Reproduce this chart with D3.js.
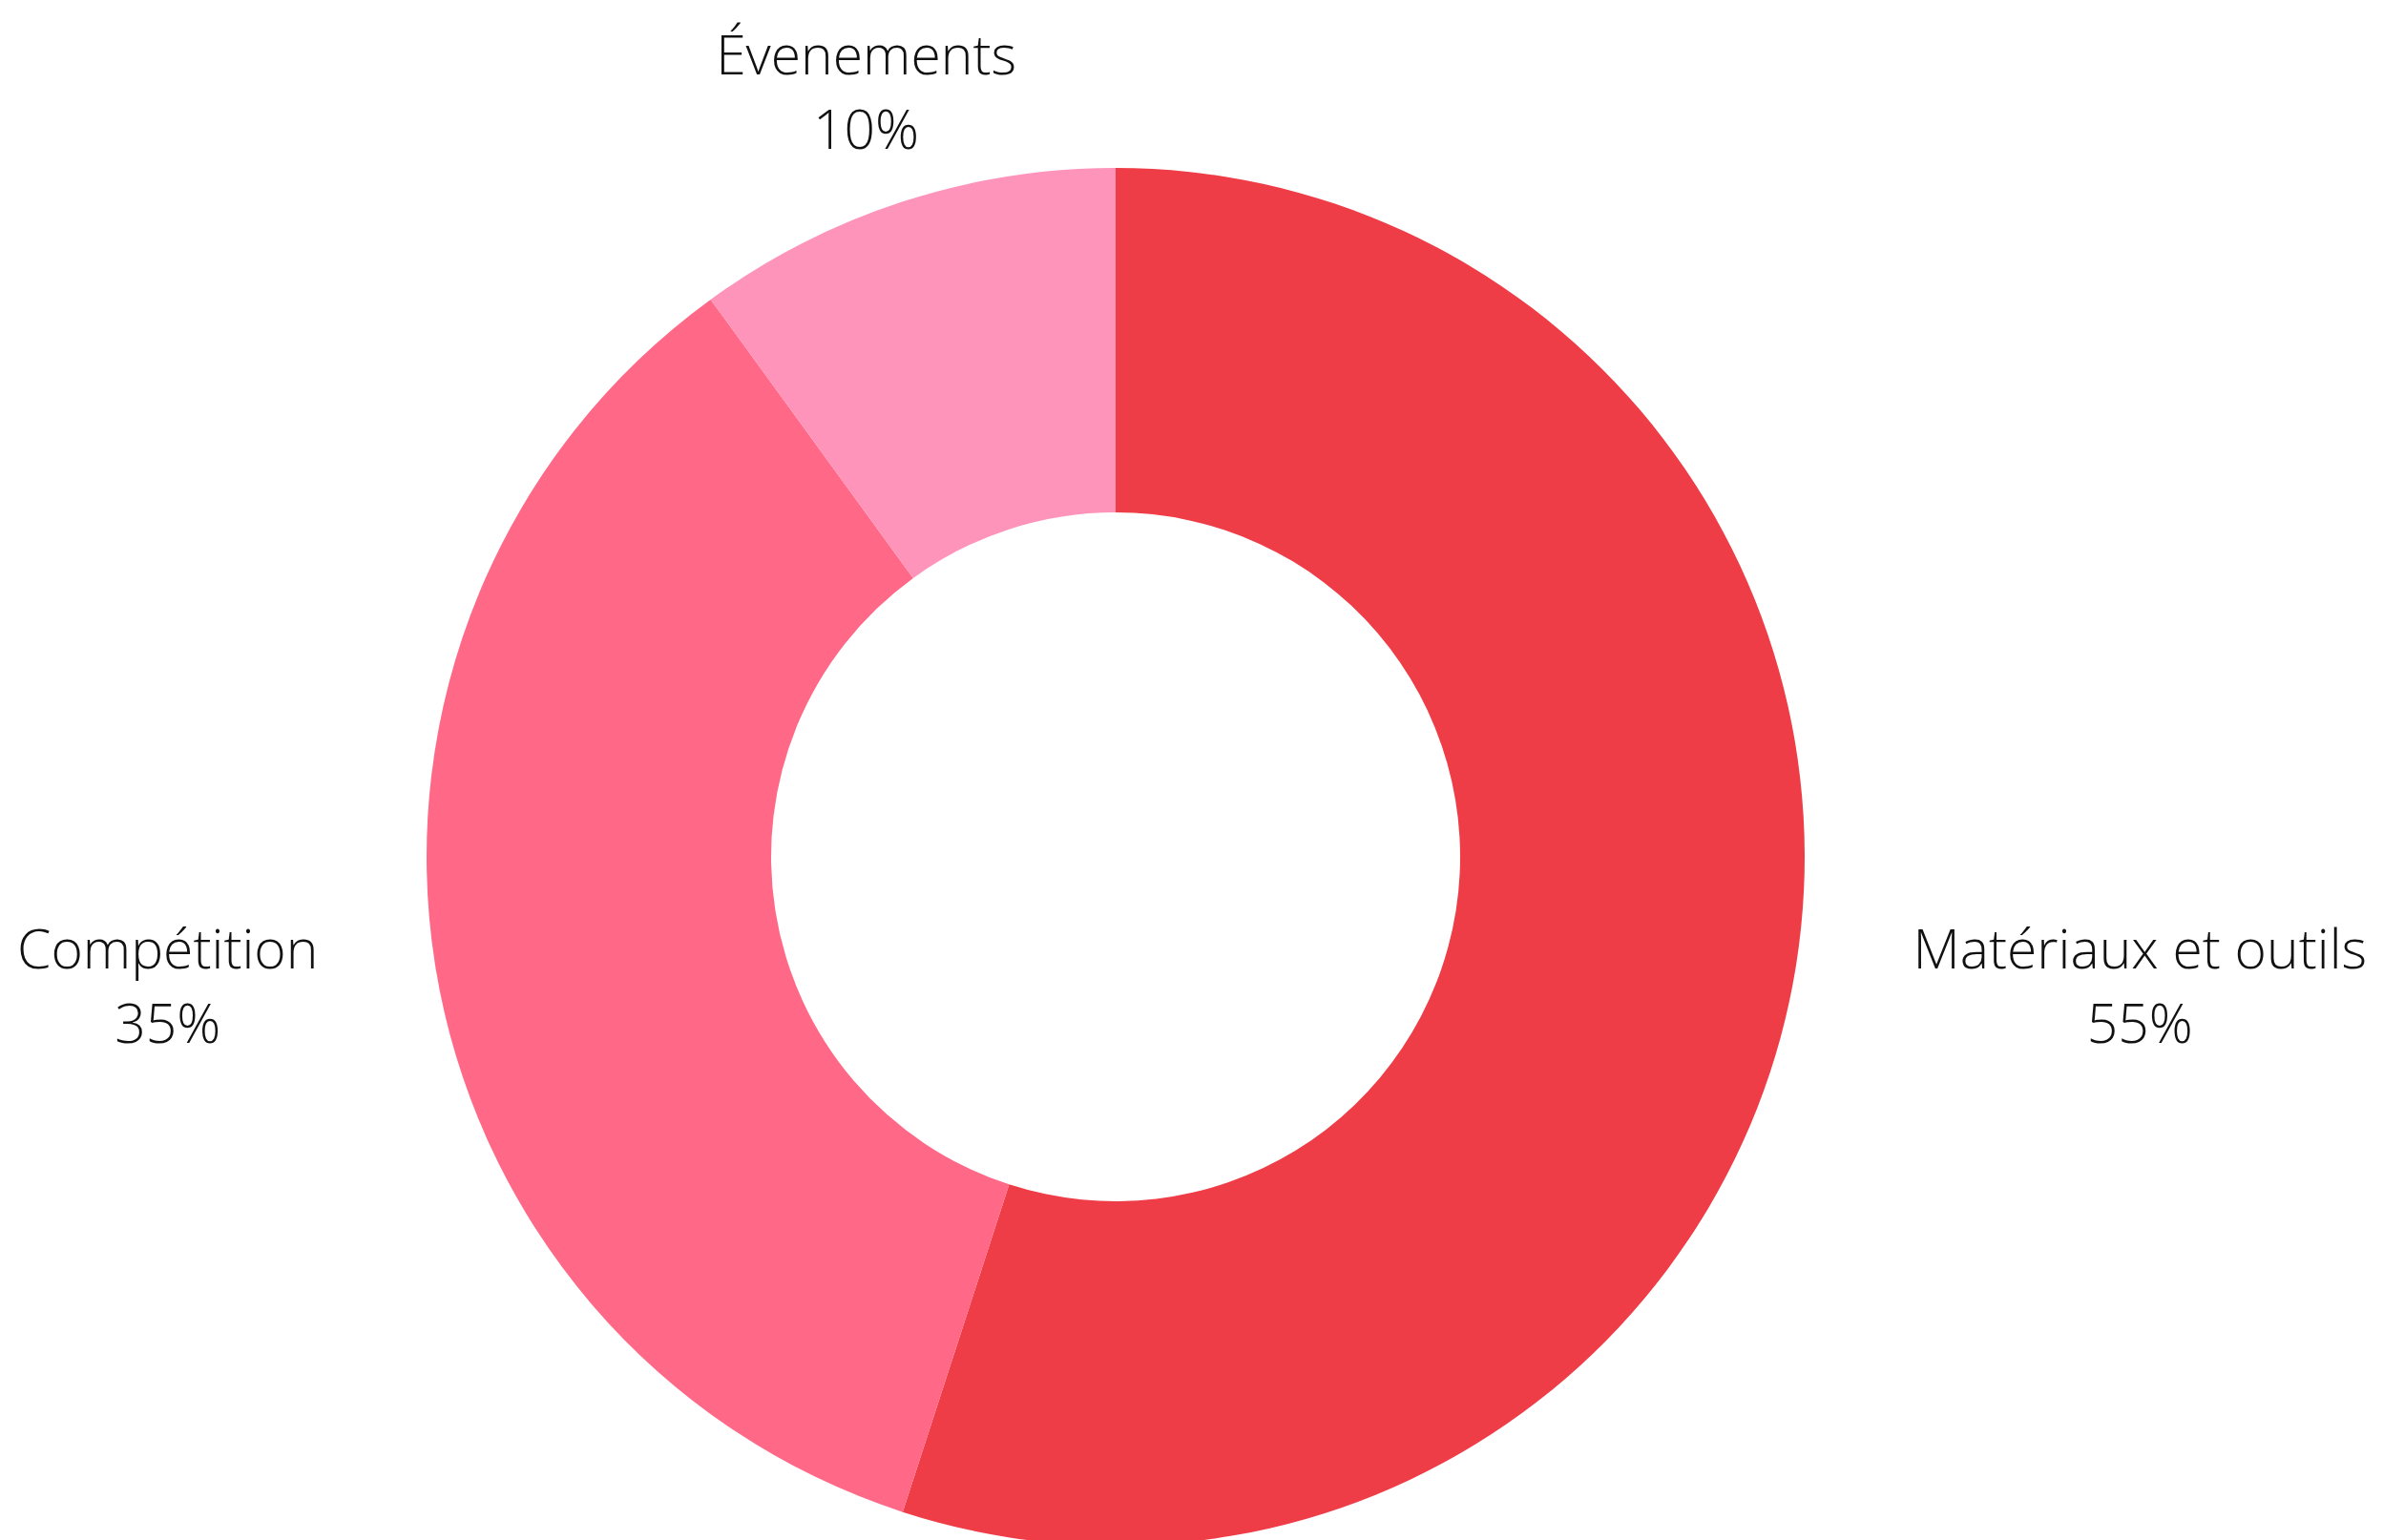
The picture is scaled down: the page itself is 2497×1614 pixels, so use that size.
<!DOCTYPE html>
<html>
<head>
<meta charset="utf-8">
<script src="https://cdn.jsdelivr.net/npm/d3@7"></script>
<style>
  html, body { margin: 0; padding: 0; background: #ffffff; }
  svg { display: block; }
  text { font-family: "Open Sans", "Noto Sans", sans-serif; font-weight: 300; fill: #111111; }
</style>
</head>
<body>
<svg id="chart" width="2497" height="1614"></svg>
<script>
const categories = ["Matériaux et outils", "Compétition", "Évenements"];
const values = [55, 35, 10];
const percentLabels = ["55%", "35%", "10%"];
const colors = ["#EF3D47", "#FF6987", "#FF94BB"];

const width = 2497, height = 1614;
const cx = 1169, cy = 898;
const outerR = 722, innerR = 361, labelR = 846;
const fontSize = 57;

const data = categories.map((c, i) => ({ name: c, value: values[i], pct: percentLabels[i], color: colors[i] }));

const svg = d3.select("#chart");
const g = svg.append("g").attr("transform", `translate(${cx},${cy})`);

const pie = d3.pie().value(d => d.value).sort(null);
const arc = d3.arc().innerRadius(innerR).outerRadius(outerR);
const arcs = pie(data);

g.selectAll("path.slice")
  .data(arcs)
  .join("path")
  .attr("class", "slice")
  .attr("d", arc)
  .attr("fill", d => d.data.color);

g.selectAll("g.label")
  .data(arcs)
  .join("g")
  .attr("class", "label")
  .each(function(d) {
    const mid = (d.startAngle + d.endAngle) / 2;
    const x = labelR * Math.sin(mid);
    const y = -labelR * Math.cos(mid);
    const s = Math.sin(mid);
    const sel = d3.select(this);
    const t1 = sel.append("text")
      .attr("y", y - 15)
      .attr("text-anchor", "middle")
      .attr("font-size", fontSize)
      .text(d.data.name);
    const t2 = sel.append("text")
      .attr("y", y + 63)
      .attr("text-anchor", "middle")
      .attr("font-size", fontSize)
      .text(d.data.pct);
    const w = Math.max(t1.node().getComputedTextLength(), t2.node().getComputedTextLength());
    const centerX = Math.abs(s) < 0.5 ? x : (s > 0 ? x + w / 2 : x - w / 2);
    t1.attr("x", centerX);
    t2.attr("x", centerX);
  });
</script>
</body>
</html>
